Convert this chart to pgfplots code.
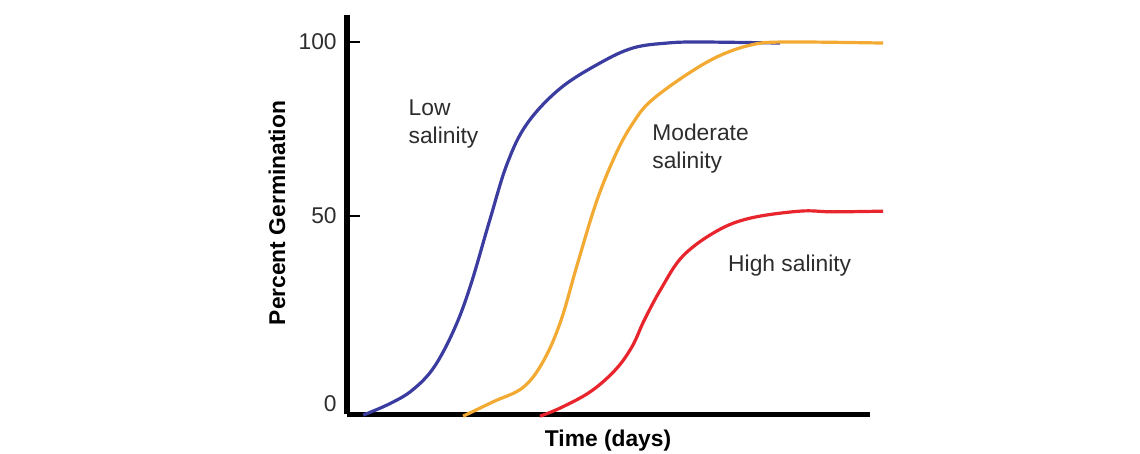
\documentclass[border=0pt]{standalone}
\usepackage{fontspec}
\setmainfont{Liberation Sans}
\usepackage{pgfplots}
\pgfplotsset{compat=1.18}

\definecolor{lowblue}{RGB}{58,60,160}
\definecolor{modorange}{RGB}{242,170,50}
\definecolor{highred}{RGB}{232,36,44}
\definecolor{txt}{RGB}{45,45,45}

\begin{document}
\begin{tikzpicture}[font=\fontsize{11.4}{14}\selectfont]
\begin{axis}[
    scale only axis,
    width=261.5pt,
    height=199.75pt,
    xmin=0, xmax=100,
    ymin=-7, ymax=107.8,
    clip=false,
    axis x line=bottom,
    axis y line=left,
    axis line style={line width=2.6pt, -},
    xtick=\empty,
    ytick={50,100},
    tick align=inside,
    major tick length=6.5pt,
    tick style={line width=1.1pt, black},
    extra y ticks={-3.9},
    extra y tick labels={0},
    extra y tick style={major tick length=0pt},
    yticklabel style={anchor=east, inner sep=0pt, xshift=-5pt, text=txt},
    /pgf/number format/assume math mode=true,
    ylabel={\bfseries Percent Germination},
    ylabel style={at={(axis description cs:-0.134,0.504)}, anchor=center},
    xlabel={\bfseries Time (days)},
    xlabel style={at={(axis description cs:0.499,-0.065)}, anchor=center},
]
% Low salinity
\addplot[lowblue, line width=1.6pt, smooth, tension=0.6] coordinates {
 (3.1,-7.2) (8.2,-3.9) (12.5,0.0) (16.6,6.5) (20.5,17.5) (23.6,30.0)
 (27.3,48.9) (30.6,65.0) (34.4,76.5) (40.7,86.6) (48.4,94.0) (54.7,98.3)
 (61.2,99.7) (67.5,100) (82.8,99.7)
};
% Moderate salinity
\addplot[modorange, line width=1.6pt, smooth, tension=0.6] coordinates {
 (22.2,-7.5) (27.9,-3.4) (33.7,0.8) (37.6,8.5) (40.9,20.0) (44.0,36.0)
 (47.8,54.6) (51.6,68.5) (54.7,76.8) (57.9,82.8) (64.2,89.9) (70.7,95.7)
 (77.1,99.1) (83.4,100) (102.5,99.7)
};
% High salinity
\addplot[highred, line width=1.6pt, smooth, tension=0.6] coordinates {
 (36.9,-7.5) (40.7,-5.2) (46.5,-0.5) (51.3,5.8) (54.5,12.5) (56.8,20.0)
 (60.0,29.0) (64.2,38.5) (70.7,45.7) (77.1,49.4) (86.6,51.4) (92.9,51.2)
 (102.5,51.4)
};
\node[anchor=north west, inner sep=0pt, align=left, text=txt] at (axis cs:11.7,83.6) {Low\\salinity};
\node[anchor=north west, inner sep=0pt, align=left, text=txt] at (axis cs:58.3,76.6) {Moderate\\salinity};
\node[anchor=north west, inner sep=0pt, text=txt] at (axis cs:72.8,39.0) {High salinity};
\coordinate (bbsw) at (axis cs:-66.35,-18.1);
\coordinate (bbne) at (axis cs:151.6,112.07);
\end{axis}
\pgfresetboundingbox
\useasboundingbox (bbsw) rectangle (bbne);
\end{tikzpicture}
\end{document}
